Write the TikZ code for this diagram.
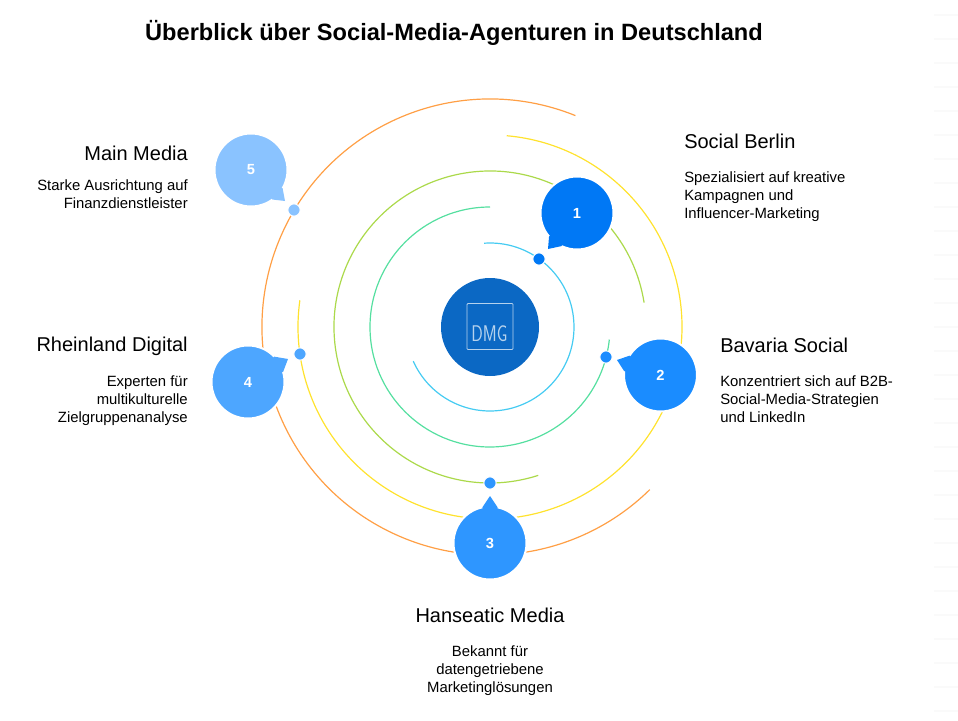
\documentclass[tikz,border=0pt]{standalone}
\usepackage{fontspec}
\setmainfont{Liberation Sans}
\usetikzlibrary{positioning}
\definecolor{bubbleone}{HTML}{0078F5}
\definecolor{bubbletwo}{HTML}{1A8CFF}
\definecolor{bubblethree}{HTML}{2E96FF}
\definecolor{bubblefour}{HTML}{4DA6FF}
\definecolor{bubblefive}{HTML}{8AC3FF}
\definecolor{hubblue}{HTML}{0B68C4}
\definecolor{ringcyan}{HTML}{45CBF2}
\definecolor{ringgreen}{HTML}{55DFA0}
\definecolor{ringlime}{HTML}{ABD94A}
\definecolor{ringyellow}{HTML}{FFE22E}
\definecolor{ringorange}{HTML}{FF9F45}

\begin{document}
\begin{tikzpicture}[x=0.75pt,y=0.75pt]
% Define styles
\tikzstyle{ring} = [line width=0.9pt]
\tikzstyle{bubble} = [circle, minimum size=54.75pt, inner sep=0pt, outer sep=0pt, draw=white, line width=1.5pt]
\tikzstyle{number} = [text=white, inner sep=0pt, font=\fontsize{11}{12}\selectfont\bfseries]
\tikzstyle{dot} = [circle, minimum size=9.2pt, inner sep=0pt, outer sep=0pt, draw=white, line width=0.75pt]
\tikzstyle{agencyname} = [inner sep=0pt, font=\fontsize{15}{18}\selectfont]
\tikzstyle{agencytext} = [inner sep=0pt, font=\fontsize{11.15}{13.5}\selectfont]
\useasboundingbox (0,0) rectangle (958,-721);

% Faint rules at the right edge
\foreach \y in {15,39,...,711} \draw[black!2, line width=1pt] (934,-\y) -- (958,-\y);

\node (title) [font=\fontsize{17.7}{22}\selectfont\bfseries] at (454,-33) {Überblick über Social-Media-Agenturen in Deutschland};

% Rings
\coordinate (hubc) at (490,-327);
\draw[ring, ringcyan] (hubc) ++(94:84) arc (94:-156:84);
\draw[ring, ringgreen] (hubc) ++(90:120) arc (90:354:120);
\draw[ring, ringlime] (hubc) ++(9:156) arc (9:288:156);
\draw[ring, ringyellow] (hubc) ++(85:192) arc (85:-188:192);
\draw[ring, ringorange] (hubc) ++(68:228) arc (68:314.5:228);

% Centre
\node (hub) [circle, fill=hubblue, minimum size=73.5pt, inner sep=0pt] at (hubc) {};
\node (logo) [draw=white!70!hubblue, rounded corners=0.7pt, line width=0.6pt, minimum size=34.5pt, inner sep=0pt] at (490,-326.5) {};
\node (logotext) [text=white!70!hubblue, font=\fontsize{17}{20}\selectfont\sffamily, xscale=0.75, transform shape] at (489.5,-334) {DMG};

% Bubbles
\node (bub1) [bubble, fill=bubbleone] at (577,-213) {};
\fill[bubbleone] (bub1.220) -- (548,-249) -- (bub1.245) -- (bub1.center) -- cycle;
\node (num1) [number] at (bub1) {1};
\node (bub2) [bubble, fill=bubbletwo] at (660.5,-375) {};
\fill[bubbletwo] (bub2.148) -- (617,-360) -- (bub2.174) -- (bub2.center) -- cycle;
\node (num2) [number] at (bub2) {2};
\node (bub3) [bubble, fill=bubblethree] at (490,-543) {};
\fill[bubblethree] (bub3.78) -- (490,-496) -- (bub3.102) -- (bub3.center) -- cycle;
\node (num3) [number] at (bub3) {3};
\node (bub4) [bubble, fill=bubblefour] at (248,-382) {};
\fill[bubblefour] (bub4.44) -- (288,-359) -- (bub4.16) -- (bub4.center) -- cycle;
\node (num4) [number] at (bub4) {4};
\node (bub5) [bubble, fill=bubblefive] at (251,-170) {};
\fill[bubblefive] (bub5.-30) -- (285,-201) -- (bub5.-54) -- (bub5.center) -- cycle;
\node (num5) [number] at (bub5) {5};

% Dots
\node (dot1) [dot, fill=bubbleone] at (539,-259) {};
\node (dot2) [dot, fill=bubbletwo] at (606,-357) {};
\node (dot3) [dot, fill=bubblethree] at (490,-483) {};
\node (dot4) [dot, fill=bubblefour] at (300,-354) {};
\node (dot5) [dot, fill=bubblefive] at (294,-210) {};

% Labels
\node (name1) [agencyname, anchor=west] at (684,-141) {Social Berlin};
\node (text1) [agencytext, align=left, below=17pt of name1.south west, anchor=north west] {Spezialisiert auf kreative\\Kampagnen und\\Influencer-Marketing};
\node (name2) [agencyname, anchor=west] at (720,-345) {Bavaria Social};
\node (text2) [agencytext, align=left, below=17pt of name2.south west, anchor=north west] {Konzentriert sich auf B2B-\\Social-Media-Strategien\\und LinkedIn};
\node (name3) [agencyname] at (490,-615) {Hanseatic Media};
\node (text3) [agencytext, align=center, below=17pt of name3.south] {Bekannt für\\datengetriebene\\Marketinglösungen};
\node (name4) [agencyname, anchor=east] at (188,-346) {Rheinland Digital};
\node (text4) [agencytext, align=right, below=14.75pt of name4.south east, anchor=north east] {Experten für\\multikulturelle\\Zielgruppenanalyse};
\node (name5) [agencyname, anchor=east] at (188,-153) {Main Media};
\node (text5) [agencytext, align=right, below=14pt of name5.south east, anchor=north east] {Starke Ausrichtung auf\\Finanzdienstleister};

\end{tikzpicture}
\end{document}
